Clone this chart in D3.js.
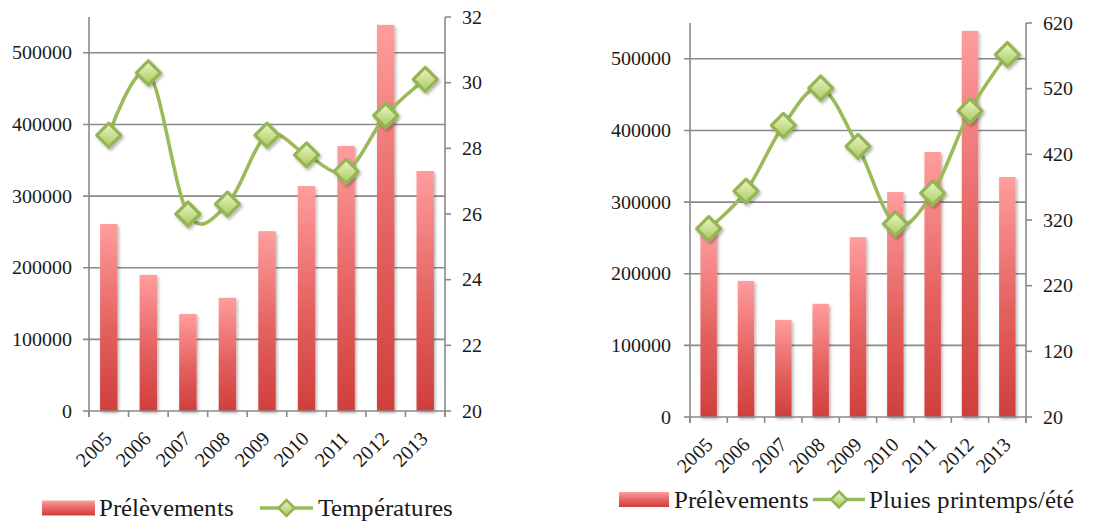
<!DOCTYPE html>
<html><head><meta charset="utf-8">
<script src="https://cdn.jsdelivr.net/npm/d3@7"></script>
<style>
@font-face{font-family:"ChartSerif";src:local("Liberation Serif"),local("LiberationSerif"),local("LiberationSerif-Regular"),local("Tinos"),local("Nimbus Roman"),local("FreeSerif");}
body{margin:0;background:#fff}
svg{display:block}
</style>
</head><body>
<svg id="c" width="1103" height="525"></svg>
<script>
// ---- data ----
const years = ["2005","2006","2007","2008","2009","2010","2011","2012","2013"];
const prelevements = [261000,190000,135500,158000,251000,314000,370000,539000,335000];
const temperatures = [28.4,30.3,26.0,26.3,28.4,27.8,27.3,29.0,30.1];
const pluies = [307,364,464,521,432,314,361,486,572];
const leftTicks = [0,100000,200000,300000,400000,500000];
const tempTicks = [20,22,24,26,28,30,32];
const rainTicks = [20,120,220,320,420,520,620];
const barName = "Prélèvements";
const tempName = "Températures";
const rainName = "Pluies printemps/été";

const FONT = "ChartSerif, 'Liberation Serif', cursive";
const svg = d3.select("#c");
const defs = svg.append("defs");
const bg = defs.append("linearGradient").attr("id","barGrad").attr("x1",0).attr("y1",0).attr("x2",0).attr("y2",1);
bg.append("stop").attr("offset","0%").attr("stop-color","#ff9d9d");
bg.append("stop").attr("offset","55%").attr("stop-color","#e4615f");
bg.append("stop").attr("offset","100%").attr("stop-color","#cf3f3c");
const mg = defs.append("linearGradient").attr("id","mkGrad").attr("x1",0).attr("y1",0).attr("x2",0).attr("y2",1);
mg.append("stop").attr("offset","0%").attr("stop-color","#eef6c8");
mg.append("stop").attr("offset","100%").attr("stop-color","#a8c95c");
const sh = defs.append("filter").attr("id","shadow").attr("x","-30%").attr("y","-30%").attr("width","170%").attr("height","170%");
sh.append("feDropShadow").attr("dx",1.5).attr("dy",2).attr("stdDeviation",1.6).attr("flood-color","#000").attr("flood-opacity",0.3);

const GRID = "#8a8a8a";
const TXT = "#1a1a1a";

function txt(sel, size){
  return sel.attr("font-family",FONT).style("font-family",FONT).attr("font-size",size).style("font-size",size+"px").attr("fill",TXT);
}

function draw(cfg){
  const g = svg.append("g");
  const x = d3.scaleBand().domain(years).range([cfg.x0,cfg.x1]).padding(0);
  const yL = d3.scaleLinear().domain([0,550000]).range([cfg.yBot,cfg.yTop]);
  const yR = d3.scaleLinear().domain(cfg.rDomain).range([cfg.yBot,cfg.yTop]);

  // gridlines
  g.selectAll(".grid").data(leftTicks.filter(d=>d>0)).enter().append("line")
    .attr("x1",cfg.x0-6).attr("x2",cfg.x1).attr("y1",d=>yL(d)).attr("y2",d=>yL(d))
    .attr("stroke",GRID).attr("stroke-width",1.6);

  // bars
  const bw = x.bandwidth()*0.44;
  g.selectAll(".bar").data(prelevements).enter().append("rect")
    .attr("x",(d,i)=>x(years[i])+x.bandwidth()/2-bw/2)
    .attr("width",bw)
    .attr("y",d=>yL(d)).attr("height",d=>yL(0)-yL(d))
    .attr("fill","url(#barGrad)").attr("filter","url(#shadow)");

  // left axis
  g.append("line").attr("x1",cfg.x0).attr("x2",cfg.x0).attr("y1",cfg.yTop).attr("y2",cfg.yBot+6)
    .attr("stroke",GRID).attr("stroke-width",1.6);
  g.append("line").attr("x1",cfg.x0-6).attr("x2",cfg.x0).attr("y1",yL(0)).attr("y2",yL(0))
    .attr("stroke",GRID).attr("stroke-width",1.6);
  txt(g.selectAll(".lt").data(leftTicks).enter().append("text")
    .attr("x",cfg.x0-cfg.lOff).attr("y",d=>yL(d)).attr("dy","0.33em")
    .attr("text-anchor","end"), cfg.fs).text(d=>d);

  // x axis
  g.append("line").attr("x1",cfg.x0).attr("x2",cfg.x1).attr("y1",cfg.yBot).attr("y2",cfg.yBot)
    .attr("stroke",GRID).attr("stroke-width",1.6);
  g.selectAll(".xt").data(years.concat(["end"])).enter().append("line")
    .attr("x1",(d,i)=>cfg.x0+i*x.step()).attr("x2",(d,i)=>cfg.x0+i*x.step())
    .attr("y1",cfg.yBot).attr("y2",cfg.yBot+6)
    .attr("stroke",GRID).attr("stroke-width",1.6);
  txt(g.selectAll(".xl").data(years).enter().append("text")
    .attr("transform",d=>`translate(${x(d)+x.bandwidth()/2+cfg.xlx},${cfg.yBot+29}) rotate(-45)`)
    .attr("text-anchor","end"), cfg.fs).text(d=>d);

  // right axis
  g.append("line").attr("x1",cfg.x1).attr("x2",cfg.x1).attr("y1",cfg.yTop).attr("y2",cfg.yBot+6)
    .attr("stroke",GRID).attr("stroke-width",1.6);
  g.selectAll(".rtk").data(cfg.rTicks).enter().append("line")
    .attr("x1",cfg.x1).attr("x2",cfg.x1+6).attr("y1",d=>yR(d)).attr("y2",d=>yR(d))
    .attr("stroke",GRID).attr("stroke-width",1.6);
  txt(g.selectAll(".rt").data(cfg.rTicks).enter().append("text")
    .attr("x",cfg.x1+cfg.rOff).attr("y",d=>yR(d)).attr("dy","0.33em")
    .attr("text-anchor","start"), cfg.fs).text(d=>d);

  // line
  const line = d3.line().x((d,i)=>x(years[i])+x.bandwidth()/2).y(d=>yR(d)).curve(d3.curveCardinal.tension(0));
  g.append("path").datum(cfg.values).attr("d",line).attr("fill","none")
    .attr("stroke","#9bbb59").attr("stroke-width",3.6).attr("stroke-linejoin","round");
  const dm = 12;
  g.selectAll(".mk").data(cfg.values).enter().append("path")
    .attr("transform",(d,i)=>`translate(${x(years[i])+x.bandwidth()/2},${yR(d)})`)
    .attr("d",`M0,${-dm}L${dm},0L0,${dm}L${-dm},0Z`)
    .attr("fill","url(#mkGrad)").attr("stroke","#93b553").attr("stroke-width",3.2)
    .attr("stroke-linejoin","round").attr("filter","url(#shadow)");

  // legend
  const L = cfg.leg;
  g.append("rect").attr("x",L.sx).attr("y",L.y-7.5).attr("width",L.sw).attr("height",15)
    .attr("fill","url(#barGrad)");
  txt(g.append("text").attr("x",L.t1).attr("y",L.y).attr("dy","0.33em"), L.fs).text(barName);
  g.append("line").attr("x1",L.lx).attr("x2",L.lx+L.lw).attr("y1",L.y).attr("y2",L.y)
    .attr("stroke","#9bbb59").attr("stroke-width",3.6);
  const ld = 8;
  g.append("path").attr("transform",`translate(${L.lx+L.lw/2},${L.y})`)
    .attr("d",`M0,${-ld}L${ld},0L0,${ld}L${-ld},0Z`)
    .attr("fill","url(#mkGrad)").attr("stroke","#93b553").attr("stroke-width",2.5);
  txt(g.append("text").attr("x",L.t2).attr("y",L.y).attr("dy","0.33em"), L.fs).text(cfg.name);
}

draw({x0:89,x1:445,yTop:17,yBot:411,rDomain:[20,32],rTicks:tempTicks,values:temperatures,name:tempName,
  lOff:17,rOff:17,xlx:4,fs:20,
  leg:{sx:42,sw:53,y:508,t1:99,lx:260,lw:53,t2:318,fs:25}});
draw({x0:690,x1:1026,yTop:23,yBot:417,rDomain:[20,620],rTicks:rainTicks,values:pluies,name:rainName,
  lOff:19,rOff:17,xlx:5,fs:20,
  leg:{sx:619,sw:50,y:499.5,t1:674,lx:813,lw:52,t2:869,fs:24.5}});
</script>
</body></html>
